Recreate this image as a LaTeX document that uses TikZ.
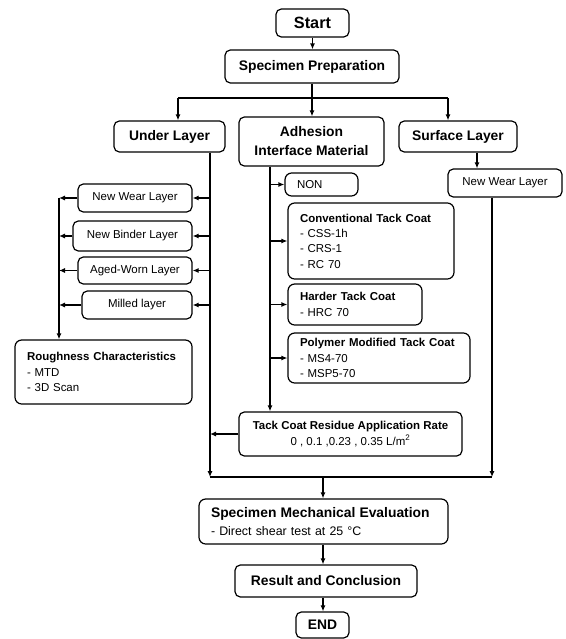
\documentclass[tikz,border=0pt]{standalone}
\usepackage{fontspec}
\setmainfont{Liberation Sans}
\usetikzlibrary{arrows.meta}
\tikzset{
  box/.style={draw, rounded corners=4pt, line width=0.9pt, inner sep=0pt, align=center},
  lbox/.style={draw, rounded corners=5pt, line width=0.9pt, inner ysep=0pt, inner xsep=9pt, align=left},
  conn/.style={line width=0.9pt},
  arr/.style={line width=0.9pt, -{Latex[length=4.5pt,width=3.8pt]}},
  big/.style={font=\fontsize{10.4}{12.5}\selectfont\bfseries},
  small/.style={font=\fontsize{8.6}{11.5}\selectfont},
}
\begin{document}
\begin{tikzpicture}[x=0.75pt,y=-0.75pt]
\useasboundingbox (0,0) rectangle (565,639);
% top
\node[box, big, font=\fontsize{12.2}{14}\selectfont\bfseries, minimum width=54.75pt, minimum height=21pt] (start) at (312.5,23) {Start};
\node[box, big, minimum width=130.5pt, minimum height=24.75pt] (prep) at (312,66.5) {Specimen Preparation};
\node[box, big, minimum width=83.25pt, minimum height=23.25pt] (under) at (169.5,136.5) {Under Layer};
\node[box, font=\fontsize{10.4}{14.25}\selectfont\bfseries, minimum width=108.75pt, minimum height=36.75pt] (adh) at (311.5,141.5) {Adhesion\\Interface Material};
\node[box, big, minimum width=88.5pt, minimum height=23.25pt] (surf) at (458,136.5) {Surface Layer};
\node[box, small, minimum width=85.5pt, minimum height=21pt] (nwR) at (505,183) {New Wear Layer};
% left column
\node[box, small, minimum width=85.5pt, minimum height=21pt] (nw) at (135,198) {New Wear Layer};
\node[box, small, minimum width=89.25pt, minimum height=22.5pt] (nb) at (132.5,236) {New Binder Layer};
\node[box, small, minimum width=85.5pt, minimum height=20.25pt] (aw) at (135,270.5) {Aged-Worn Layer};
\node[box, small, minimum width=82.5pt, minimum height=21pt] (ml) at (137,305) {Milled layer};
\node[lbox, font=\fontsize{8.6}{11.6}\selectfont, text width=114.75pt, minimum height=48pt] (rough) at (103.5,372) {\textbf{Roughness Characteristics}\\- MTD\\- 3D Scan};
% middle column
\node[lbox, small, text width=36.75pt, minimum height=17.25pt] (non) at (321.5,184.5) {NON};
\node[lbox, font=\fontsize{8.6}{11.5}\selectfont, text width=106.5pt, minimum height=57pt] (conv) at (371,241) {\textbf{Conventional Tack Coat}\\- CSS-1h\\- CRS-1\\- RC 70};
\node[lbox, font=\fontsize{8.6}{12}\selectfont, text width=82.5pt, minimum height=30.75pt] (hard) at (355,304.5) {\textbf{Harder Tack Coat}\\- HRC 70};
\node[lbox, font=\fontsize{8.6}{11.6}\selectfont, text width=118.5pt, minimum height=37.5pt] (poly) at (379,358) {\textbf{Polymer Modified Tack Coat}\\- MS4-70\\- MSP5-70};
\node[box, font=\fontsize{8.6}{12}\selectfont, minimum width=167.25pt, minimum height=33pt] (tack) at (350.5,434) {\textbf{Tack Coat Residue Application Rate}\\0 , 0.1 ,0.23 , 0.35 L/m\textsuperscript{2}};
% bottom
\node[lbox, font=\fontsize{9.3}{13.5}\selectfont, text width=168.75pt, minimum height=33.75pt] (sme) at (323.5,521.5) {{\fontsize{10.4}{13.5}\selectfont\bfseries Specimen Mechanical Evaluation}\\- Direct shear test at 25 °C};
\node[box, big, minimum width=136.5pt, minimum height=24pt] (rc) at (326,581) {Result and Conclusion};
\node[box, big, minimum width=39.75pt, minimum height=19.5pt] (end) at (322.5,625) {END};
% coordinates
\coordinate (j1) at (312,98);
\coordinate (jl) at (178,98);
\coordinate (jr) at (448,98);
\coordinate (ub) at (210,477);
\coordinate (lx) at (59,198);
\coordinate (ax) at (270,0);
\coordinate (sx) at (477,0);
\coordinate (rb) at (492,477);
\coordinate (bm) at (323,477);
% connectors
\draw[arr] (start.south) -- (start.south |- prep.north);
\draw[conn] (prep.south -| j1) -- (j1);
\draw[arr] (j1) -- (j1 |- adh.north);
\draw[conn] (jl) -- (jr);
\draw[arr] (jl) -- (jl |- under.north);
\draw[arr] (jr) -- (jr |- surf.north);
% under layer branch
\draw[arr] (under.south -| ub) -- (ub);
\draw[arr] (ub |- nw.east) -- (nw.east);
\draw[arr] (ub |- nb.east) -- (nb.east);
\draw[arr] (ub |- aw.east) -- (aw.east);
\draw[arr] (ub |- ml.east) -- (ml.east);
\draw[arr] (nw.west) -- (lx |- nw.west);
\draw[arr] (nb.west) -- (lx |- nb.west);
\draw[arr] (aw.west) -- (lx |- aw.west);
\draw[arr] (ml.west) -- (lx |- ml.west);
\draw[arr] (lx) -- (lx |- rough.north);
% adhesion branch
\draw[arr] (ax |- adh.south) -- (ax |- tack.north);
\draw[arr] (ax |- non.west) -- (non.west);
\draw[arr] (ax |- conv.west) -- (conv.west);
\draw[arr] (ax |- hard.west) -- (hard.west);
\draw[arr] (ax |- poly.west) -- (poly.west);
\draw[arr] (tack.west) -- (tack.west -| ub);
% surface branch
\draw[arr] (sx |- surf.south) -- (sx |- nwR.north);
\draw[arr] (rb |- nwR.south) -- (rb);
% merge
\draw[conn] (ub) -- (rb);
\draw[arr] (bm) -- (bm |- sme.north);
\draw[arr] (bm |- sme.south) -- (bm |- rc.north);
\draw[arr] (bm |- rc.south) -- (bm |- end.north);
\end{tikzpicture}
\end{document}
